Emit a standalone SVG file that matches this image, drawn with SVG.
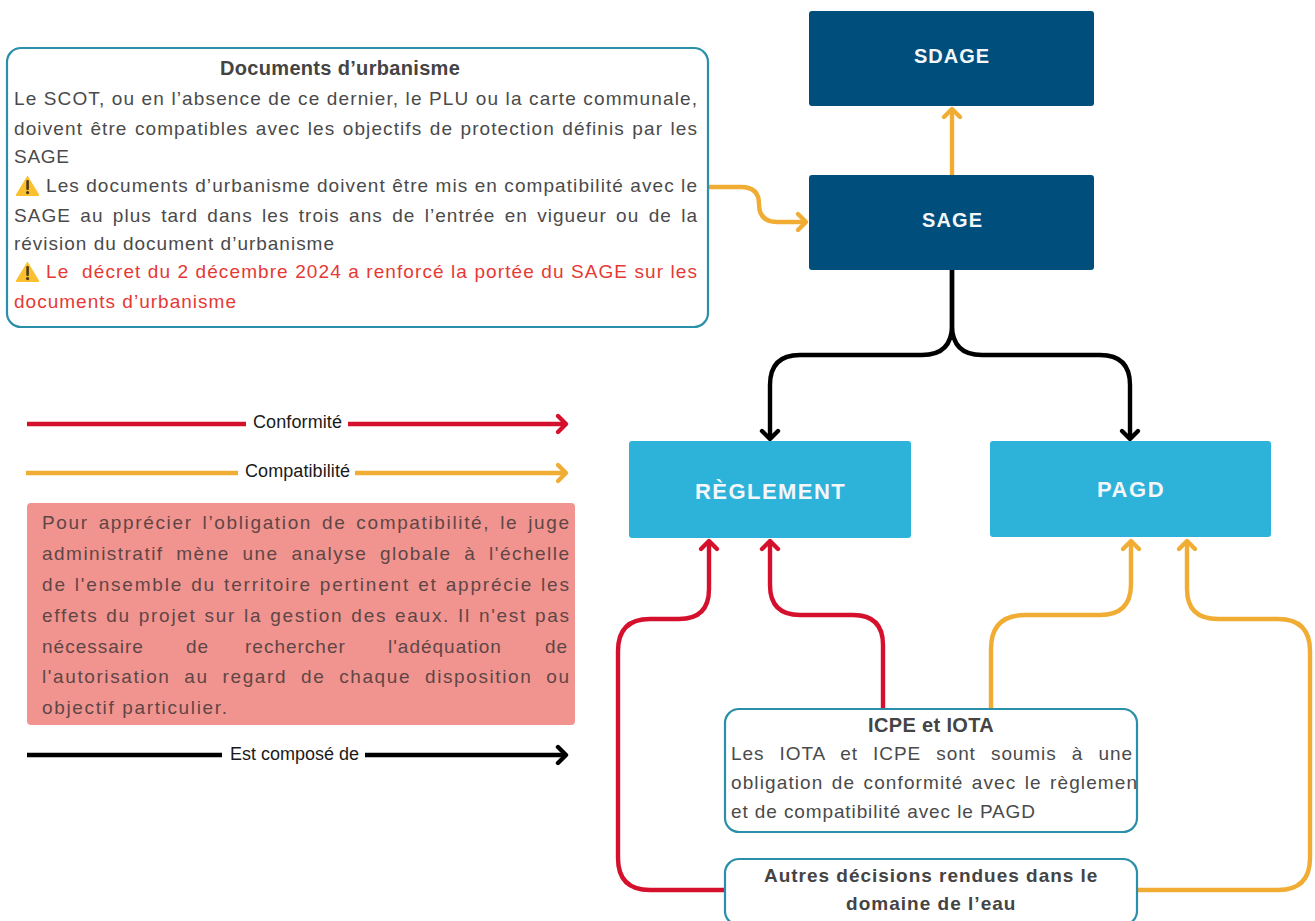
<svg xmlns="http://www.w3.org/2000/svg" width="1315" height="921" viewBox="0 0 1315 921">
<style>
text{font-family:"Liberation Sans",Arial,sans-serif}
.c{fill:none;stroke-width:4.4}
.red{stroke:#d5102d}.or{stroke:#f0ac33}.bk{stroke:#000}
.dark{fill:#004e7c}.light{fill:#2db2da}
.box{fill:#fff;stroke:#2a8fa8;stroke-width:2.2}
.h{font-size:20px;font-weight:700;fill:#f4f7fa;letter-spacing:1px}
.h2{font-size:22px;letter-spacing:1.3px}
.b{font-size:19px;fill:#4a4a4a;letter-spacing:1px}
.t{font-size:20px;font-weight:700;fill:#444;letter-spacing:.2px}
.t2{font-size:19px;letter-spacing:.6px}
.r{fill:#e53935}
.p{fill:#5f4646}
.l{font-size:18px;fill:#1a1a1a}
.w{fill:#fbc02d}.x{fill:#4a3a20}
</style>
<defs>
<marker id="mr" markerUnits="userSpaceOnUse" markerWidth="24" markerHeight="24" refX="12" refY="12" orient="auto" overflow="visible"><path d="M4 4L12 12L4 20" fill="none" stroke="#d5102d" stroke-width="4.4" stroke-linecap="round" stroke-linejoin="round"/></marker>
<marker id="mo" markerUnits="userSpaceOnUse" markerWidth="24" markerHeight="24" refX="12" refY="12" orient="auto" overflow="visible"><path d="M4 4L12 12L4 20" fill="none" stroke="#f0ac33" stroke-width="4.4" stroke-linecap="round" stroke-linejoin="round"/></marker>
<marker id="mk" markerUnits="userSpaceOnUse" markerWidth="24" markerHeight="24" refX="12" refY="12" orient="auto" overflow="visible"><path d="M4 4L12 12L4 20" fill="none" stroke="#000" stroke-width="4.4" stroke-linecap="round" stroke-linejoin="round"/></marker>
<g id="warn"><path d="M12.5 1.5L24 20.5Q24.5 22 23 22H2Q.5 22 1 20.5Z" class="w"/><rect x="11.3" y="6" width="2.6" height="10" rx="1" class="x"/><circle cx="12.6" cy="18.6" r="1.6" class="x"/></g>
</defs>
<g id="connectors">
<path class="c or" marker-end="url(#mo)" d="M952 175V109"/>
<path class="c or" marker-end="url(#mo)" d="M708 187H741Q759 187 759 204Q759 222 777 222H806"/>
<path class="c bk" marker-end="url(#mk)" d="M952 270V325Q952 355 922 355H800Q770 355 770 385V439"/>
<path class="c bk" marker-end="url(#mk)" d="M952 270V325Q952 355 982 355H1100Q1130 355 1130 385V439"/>
<path class="c red" marker-end="url(#mr)" d="M883 709V645Q883 615 853 615H800Q770 615 770 585V541"/>
<path class="c red" marker-end="url(#mr)" d="M725 890H650Q618 890 618 858V651Q618 619 650 619H679Q709 619 709 589V541"/>
<path class="c or" marker-end="url(#mo)" d="M991 709V649Q991 615 1025 615H1100Q1131 615 1131 584V541"/>
<path class="c or" marker-end="url(#mo)" d="M1137 890H1278Q1310 890 1310 858V651Q1310 619 1278 619H1218Q1187 619 1187 589V541"/>
<path class="c red" d="M27 424H246"/><path class="c red" marker-end="url(#mr)" d="M348 424H566"/>
<path class="c or" d="M26 473H238"/><path class="c or" marker-end="url(#mo)" d="M355 473H566"/>
<path class="c bk" d="M27 755H222"/><path class="c bk" marker-end="url(#mk)" d="M365 755H566"/>
</g>
<g id="legend-labels">
<text class="l" x="253" y="428" textLength="89">Conformité</text>
<text class="l" x="245" y="477" textLength="105">Compatibilité</text>
<text class="l" x="230" y="760" textLength="129">Est composé de</text>
</g>
<g id="sdage"><rect class="dark" x="809" y="11" width="285" height="95" rx="3"/><text class="h" x="914" y="63" textLength="76">SDAGE</text></g>
<g id="sage"><rect class="dark" x="809" y="175" width="285" height="95" rx="3"/><text class="h" x="922" y="227" textLength="61">SAGE</text></g>
<g id="reglement"><rect class="light" x="629" y="441" width="282" height="97" rx="3"/><text class="h h2" x="695" y="499" textLength="151">RÈGLEMENT</text></g>
<g id="pagd"><rect class="light" x="990" y="441" width="281" height="96" rx="3"/><text class="h h2" x="1097" y="497" textLength="68">PAGD</text></g>
<g id="documents">
<rect class="box" x="7" y="48" width="701" height="279" rx="14"/>
<text class="t" x="220" y="75" textLength="240">Documents d’urbanisme</text>
<text class="b" x="14" y="105" textLength="684">Le SCOT, ou en l’absence de ce dernier, le PLU ou la carte communale,</text>
<text class="b" x="14" y="135" textLength="684" word-spacing="1">doivent être compatibles avec les objectifs de protection définis par les</text>
<text class="b" x="14" y="163" textLength="56">SAGE</text>
<use href="#warn" x="15" y="174"/>
<text class="b" x="46" y="192" textLength="652">Les documents d’urbanisme doivent être mis en compatibilité avec le</text>
<text class="b" x="14" y="222" textLength="684" word-spacing="3">SAGE au plus tard dans les trois ans de l’entrée en vigueur ou de la</text>
<text class="b" x="14" y="250" textLength="321">révision du document d’urbanisme</text>
<use href="#warn" x="15" y="260"/>
<text class="b r" x="46" y="278" textLength="652" xml:space="preserve">Le  décret du 2 décembre 2024 a renforcé la portée du SAGE sur les</text>
<text class="b r" x="14" y="308" textLength="223">documents d’urbanisme</text>
</g>
<g id="note">
<rect x="27" y="503" width="548" height="222" rx="4" fill="#f1948f"/>
<text class="b p" x="42" y="529" textLength="528" word-spacing="3">Pour apprécier l’obligation de compatibilité, le juge</text>
<text class="b p" x="42" y="560" textLength="528" word-spacing="6">administratif mène une analyse globale à l'échelle</text>
<text class="b p" x="42" y="591" textLength="528" word-spacing="1">de l'ensemble du territoire pertinent et apprécie les</text>
<text class="b p" x="42" y="622" textLength="528" word-spacing="1">effets du projet sur la gestion des eaux. Il n'est pas</text>
<text class="b p" y="653"><tspan x="42">nécessaire</tspan><tspan x="186">de</tspan><tspan x="245">rechercher</tspan><tspan x="388">l'adéquation</tspan><tspan x="545">de</tspan></text>
<text class="b p" x="42" y="683" textLength="528" word-spacing="7">l'autorisation au regard de chaque disposition ou</text>
<text class="b p" x="42" y="714" textLength="186">objectif particulier.</text>
</g>
<g id="icpe">
<rect class="box" x="725" y="709" width="412" height="123" rx="14"/>
<text class="t" x="868" y="732" textLength="126">ICPE et IOTA</text>
<text class="b" x="731" y="760" textLength="402" word-spacing="9">Les IOTA et ICPE sont soumis à une</text>
<text class="b" x="731" y="789" textLength="407" word-spacing="2">obligation de conformité avec le règlemen</text>
<text class="b" x="731" y="818" textLength="305">et de compatibilité avec le PAGD</text>
</g>
<g id="autres">
<rect class="box" x="725" y="859" width="412" height="66" rx="14"/>
<text class="t t2" x="764" y="882" textLength="334">Autres décisions rendues dans le</text>
<text class="t t2" x="846" y="910" textLength="170">domaine de l’eau</text>
</g>
</svg>
